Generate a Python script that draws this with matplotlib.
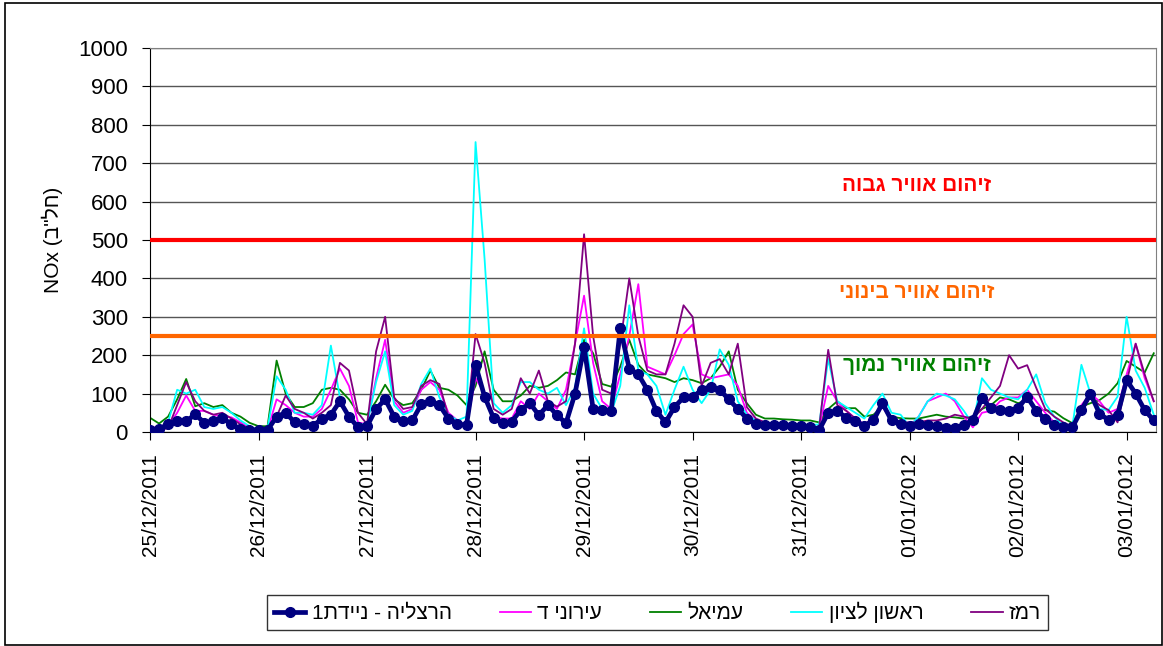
import matplotlib
matplotlib.use('Agg')
import matplotlib.pyplot as plt
import matplotlib.dates as mdates
import pandas as pd

plt.rcParams['font.family'] = ['Liberation Sans', 'DejaVu Sans']

def rtl(s):
    # matplotlib has no bidi support, so Hebrew is written in visual order
    return s[::-1]

# NOx, ppb, every 2 hours from 25/12/2011 00:00
times = pd.date_range('2011-12-25 00:00', periods=112, freq='2h')

herzliya = [5, 8, 20, 28, 28, 46, 24, 28, 37, 20, 8, 6,              # 25/12
            5, 5, 40, 50, 25, 22, 15, 35, 45, 80, 40, 12,             # 26/12
            15, 60, 85, 40, 28, 30, 72, 80, 70, 35, 20, 18,           # 27/12
            175, 92, 36, 23, 27, 57, 75, 44, 70, 44, 23, 100,         # 28/12
            222, 60, 57, 55, 270, 165, 150, 110, 55, 25, 65, 90,      # 29/12
            90, 110, 118, 110, 85, 60, 35, 20, 18, 18, 17, 15,        # 30/12
            15, 12, 5, 50, 55, 37, 28, 16, 30, 75, 30, 22,            # 31/12
            16, 20, 18, 16, 11, 10, 18, 31, 88, 62, 57, 55,           # 01/01
            62, 92, 55, 33, 18, 14, 12, 57, 100, 48, 31, 45,          # 02/01
            135, 100, 57, 30]                                         # 03/01

ironi_d = [15, 8, 15, 50, 95, 55, 55, 45, 40, 38, 25, 10,
           5, 5, 85, 70, 50, 40, 40, 60, 110, 165, 120, 25,
           20, 140, 240, 80, 50, 60, 110, 130, 110, 50, 30, 15,
           140, 100, 40, 35, 35, 80, 60, 100, 80, 60, 110, 230,
           355, 180, 80, 60, 150, 250, 385, 170, 160, 150, 200, 255,
           280, 150, 140, 145, 150, 120, 50, 30, 25, 20, 18, 15,
           15, 12, 10, 120, 80, 55, 35, 20, 35, 65, 30, 25,
           15, 40, 80, 90, 100, 80, 40, 12, 50, 55, 80, 90,
           90, 110, 80, 50, 25, 15, 15, 70, 100, 80, 50, 60,
           150, 230, 140, 80]

amiel = [37, 22, 40, 85, 138, 67, 75, 65, 70, 50, 40, 24,
         15, 15, 186, 100, 65, 65, 75, 110, 115, 110, 85, 50,
         45, 80, 123, 85, 70, 75, 110, 160, 115, 110, 95, 70,
         120, 210, 110, 80, 80, 95, 120, 115, 120, 135, 155, 150,
         240, 205, 125, 118, 170, 240, 175, 150, 145, 140, 130, 140,
         135, 127, 140, 170, 210, 110, 75, 45, 35, 35, 33, 32,
         30, 30, 25, 60, 80, 62, 62, 40, 45, 66, 40, 36,
         35, 35, 40, 45, 40, 38, 35, 40, 60, 70, 90, 85,
         75, 83, 57, 57, 53, 36, 23, 66, 75, 83, 100, 127,
         185, 170, 155, 205]

rishon = [10, 8, 25, 110, 100, 110, 65, 60, 65, 50, 30, 15,
          5, 10, 145, 110, 50, 50, 45, 70, 225, 90, 40, 20,
          20, 130, 210, 70, 45, 55, 125, 165, 90, 45, 30, 40,
          755, 450, 75, 50, 70, 130, 130, 110, 100, 115, 70, 115,
          270, 100, 60, 50, 120, 330, 160, 150, 120, 45, 110, 170,
          110, 75, 110, 215, 175, 80, 45, 30, 25, 20, 18, 15,
          20, 18, 20, 190, 80, 65, 50, 35, 70, 100, 50, 45,
          15, 40, 80, 100, 95, 85, 55, 20, 140, 110, 100, 90,
          85, 110, 150, 75, 40, 15, 15, 175, 100, 60, 57, 92,
          300, 160, 115, 45]

remez = [8, 5, 10, 70, 130, 80, 55, 45, 50, 35, 20, 8,
         5, 5, 40, 95, 60, 50, 35, 50, 70, 180, 160, 50,
         20, 210, 300, 90, 60, 65, 120, 135, 125, 40, 25, 15,
         255, 180, 60, 45, 60, 140, 100, 160, 80, 66, 80, 230,
         515, 250, 110, 100, 230, 400, 250, 160, 150, 150, 230, 330,
         300, 120, 180, 190, 150, 230, 65, 35, 25, 22, 20, 15,
         18, 15, 12, 214, 70, 55, 35, 18, 40, 70, 30, 25,
         25, 25, 30, 30, 35, 45, 40, 35, 60, 90, 120, 200,
         165, 174, 115, 60, 40, 25, 14, 50, 92, 70, 57, 25,
         130, 230, 150, 80]

series_names = ['הרצליה - ניידת1', 'עירוני ד', 'עמיאל', 'ראשון לציון', 'רמז']

high_level = 500
mid_level = 250
level_texts = ['זיהום אוויר גבוה', 'זיהום אוויר בינוני', 'זיהום אוויר נמוך']
level_colors = ['#ff0000', '#ff6600', '#008000']
text_y = [643, 362, 174]

fig = plt.figure(figsize=(11.63, 6.46), dpi=100)
ax = fig.add_axes([0.129, 0.3313, 0.8646, 0.5944])

ax.set_axisbelow(True)
ax.grid(axis='y', color='#555555', linewidth=1.0)

l2, = ax.plot(times, ironi_d, color='#ff00ff', lw=1.3, zorder=3)
l3, = ax.plot(times, amiel, color='#008000', lw=1.3, zorder=2)
l4, = ax.plot(times, rishon, color='#00ffff', lw=1.3, zorder=4)
l5, = ax.plot(times, remez, color='#800080', lw=1.3, zorder=5)
l1, = ax.plot(times, herzliya, color='#000080', lw=3.4, marker='o',
              markersize=7, zorder=6)

ax.axhline(high_level, color='#ff0000', lw=3, zorder=7)
ax.axhline(mid_level, color='#ff6600', lw=3, zorder=7)

tx = pd.Timestamp('2012-01-01 01:30')
for t, c, y in zip(level_texts, level_colors, text_y):
    ax.text(tx, y, rtl(t), color=c, fontsize=15, fontweight='bold',
            ha='center', va='center', zorder=8)

start = times[0]
ax.set_xlim(start, start + pd.Timedelta(hours=222.4))
ax.set_ylim(0, 1000)
ax.set_yticks(range(0, 1001, 100))
ax.xaxis.set_major_locator(mdates.DayLocator())
ax.xaxis.set_major_formatter(mdates.DateFormatter('%d/%m/%Y'))
ax.tick_params(axis='x', labelsize=15, rotation=90, direction='out',
               length=6, pad=9)
ax.tick_params(axis='y', labelsize=16, direction='out', length=6, pad=10)
ax.set_ylabel('NOx (' + rtl('חל"ב') + ')', fontsize=15, labelpad=11)

for s in ['top', 'right']:
    ax.spines[s].set_color('#808080')
for s in ['left', 'bottom']:
    ax.spines[s].set_color('black')

leg = fig.legend([l1, l2, l3, l4, l5], [rtl(n) for n in series_names],
                 loc='lower center', bbox_to_anchor=(0.5654, 0.008), ncol=5,
                 fontsize=15, frameon=True, fancybox=False, edgecolor='black',
                 handlelength=1.5, handletextpad=0.3, columnspacing=2.3,
                 borderpad=0.35)
leg.get_frame().set_linewidth(1.0)

fig.patches.append(plt.Rectangle((5 / 1163, 0.002), 1 - 6 / 1163, 0.994,
                                 transform=fig.transFigure, fill=False,
                                 edgecolor='black', lw=1.2))

fig.savefig('out.png', dpi=100)
